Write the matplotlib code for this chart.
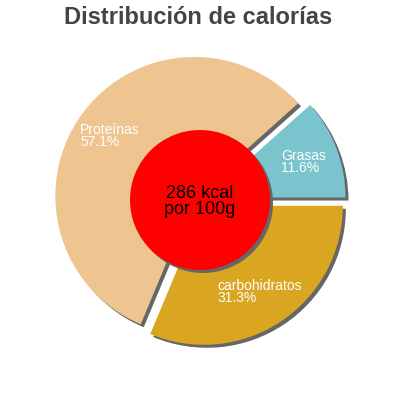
import matplotlib
matplotlib.use("Agg")
import matplotlib.pyplot as plt

plt.rcParams['font.family'] = ['Liberation Sans', 'DejaVu Sans']

# data
labels = ['Grasas', 'Proteínas', 'carbohidratos']
percents = [11.6, 57.1, 31.3]
colors = ['#7AC5CD', '#EEC591', '#DAA520']
total_kcal = 286

# layout (pixel coords, y up); label y is the baseline of the last line
cx, cy = 200, 200
radius = 139
hole = 70
shadow_dx, shadow_dy = 3, -3
label_pos = [(281, 228), (80, 254.3), (217, 98)]

fig = plt.figure(figsize=(4, 4), dpi=100, facecolor='#FFFFFF')
ax = fig.add_axes([0, 0, 1, 1])

# pie explode is in data units here, so scale it by the radius
explode = [0.05 * radius] * len(percents)

# shadows
ax.pie(percents, colors=['#666666'] * len(percents), explode=explode,
       startangle=0, counterclock=True, radius=radius,
       center=(cx + shadow_dx, cy + shadow_dy), frame=True,
       wedgeprops=dict(linewidth=0))
ax.pie(percents, colors=colors, explode=explode,
       startangle=0, counterclock=True, radius=radius,
       center=(cx, cy), frame=True,
       wedgeprops=dict(linewidth=0))

ax.set_xlim(0, 400)
ax.set_ylim(0, 400)
ax.set_aspect('equal')
ax.axis('off')

ax.add_patch(plt.Circle((cx + shadow_dx, cy + shadow_dy), hole,
                        color='#666666', linewidth=0))
ax.add_patch(plt.Circle((cx, cy), hole, color='#FF0000', linewidth=0))

for (x, y), name, p in zip(label_pos, labels, percents):
    ax.text(x, y, f'{name}\n{p}%', color='white', fontsize=10,
            ha='left', va='baseline', linespacing=0.8)

ax.text(cx, 185.7, f'{total_kcal} kcal\npor 100g', fontsize=13,
        ha='center', va='baseline', color='black', linespacing=0.95,
        multialignment='center')

ax.text(198, 376, 'Distribución de calorías', fontsize=17,
        fontweight='bold', color='#444444', ha='center', va='baseline')

fig.savefig('out.png', dpi=100, facecolor='#FFFFFF')
